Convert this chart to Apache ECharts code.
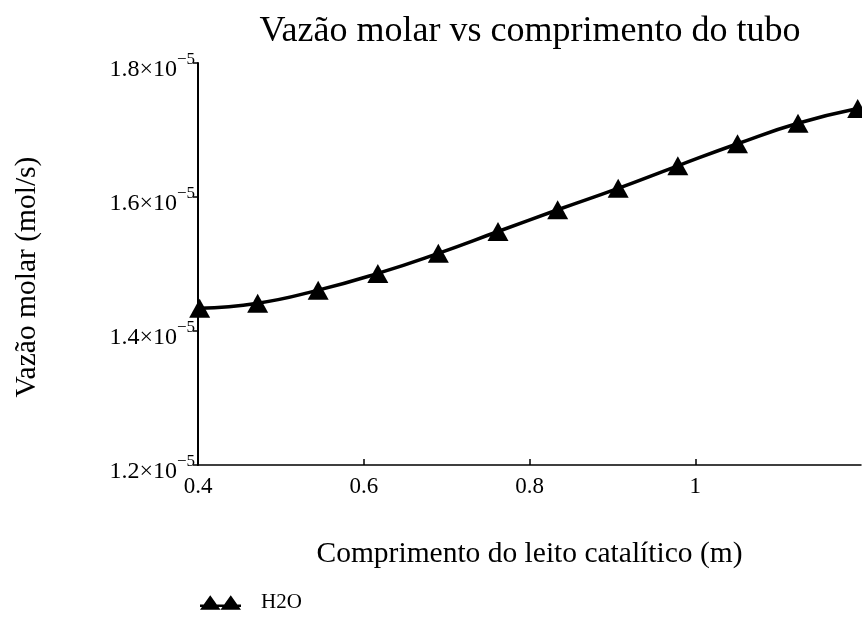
<!DOCTYPE html>
<html>
<head>
<meta charset="utf-8">
<script src="https://cdn.jsdelivr.net/npm/echarts@6/dist/echarts.min.js"></script>
<style>
html,body{margin:0;padding:0;background:#fff;}
#chart{width:862px;height:617px;}
</style>
</head>
<body>
<div id="chart"></div>
<script>
// Tube length (m) at the marked points
const lengths = [0.402, 0.472, 0.545, 0.617, 0.690, 0.762, 0.834, 0.907, 0.979, 1.051, 1.124, 1.196];
// H2O molar flow (mol/s)
const h2oFlow = [1.434e-5, 1.4415e-5, 1.461e-5, 1.486e-5, 1.516e-5, 1.5485e-5, 1.581e-5, 1.613e-5, 1.6466e-5, 1.6795e-5, 1.710e-5, 1.732e-5];
const seriesName = 'H2O';
const titleText = 'Vazão molar vs comprimento do tubo';
const xName = 'Comprimento do leito catalítico (m)';
const yName = 'Vazão molar (mol/s)';

const FONT = "'Liberation Serif', 'Times New Roman', serif";
const chart = echarts.init(document.getElementById('chart'), null, {renderer: 'canvas'});

const legendIcon = 'path://M0,14 L10,0 L20,14 Z M20,14 L30,0 L40,14 Z M0,9 L40,9 L40,11.5 L0,11.5 Z';

chart.setOption({
  animation: false,
  backgroundColor: '#fff',
  title: {
    text: titleText,
    left: 525,
    textAlign: 'center',
    top: 9,
    textStyle: {fontFamily: FONT, fontSize: 36, fontWeight: 'normal', color: '#000'}
  },
  legend: {
    left: 200,
    top: 592,
    padding: 0,
    itemWidth: 41,
    itemHeight: 17,
    itemGap: 10,
    icon: legendIcon,
    itemStyle: {color: '#000'},
    textStyle: {fontFamily: FONT, fontSize: 21, color: '#000', padding: [0, 0, 0, 15]},
    data: [{name: seriesName, icon: legendIcon}]
  },
  grid: {left: 198, right: 1, top: 63, bottom: 152, containLabel: false},
  xAxis: {
    type: 'value',
    min: 0.4,
    max: 1.2,
    interval: 0.2,
    name: xName,
    nameLocation: 'middle',
    nameGap: 74,
    nameTextStyle: {fontFamily: FONT, fontSize: 29.5, color: '#000'},
    axisLine: {show: true, onZero: false, lineStyle: {color: '#000', width: 1.5}},
    axisTick: {show: true, inside: true, length: 6, lineStyle: {color: '#000', width: 1.5}},
    axisLabel: {
      showMaxLabel: false,
      margin: 10,
      fontFamily: FONT, fontSize: 23, color: '#000',
      formatter: v => String(Math.round(v * 10) / 10)
    },
    splitLine: {show: false}
  },
  yAxis: {
    type: 'value',
    min: 1.2e-5,
    max: 1.8e-5,
    interval: 0.2e-5,
    name: yName,
    nameLocation: 'middle',
    nameGap: 156,
    nameRotate: 90,
    nameTextStyle: {fontFamily: FONT, fontSize: 29.5, color: '#000', padding: [0, 26, 0, 0]},
    axisLine: {show: true, onZero: false, lineStyle: {color: '#000', width: 2}},
    axisTick: {show: true, inside: false, length: 5, lineStyle: {color: '#000', width: 1.5}},
    axisLabel: {
      margin: 3,
      padding: [7, 0, 0, 0],
      formatter: v => '{m|' + (v * 1e5).toFixed(1) + '×10}{s|−5}',
      rich: {
        m: {fontFamily: FONT, fontSize: 24, color: '#000', lineHeight: 30, verticalAlign: 'bottom', padding: [8, 0, 0, 0]},
        s: {fontFamily: FONT, fontSize: 17, color: '#000', lineHeight: 30, verticalAlign: 'top'}
      }
    },
    splitLine: {show: false}
  },
  series: [{
    name: seriesName,
    type: 'line',
    data: lengths.map((x, i) => [x, h2oFlow[i]]),
    smooth: true,
    symbol: 'triangle',
    symbolSize: [21, 19],
    showAllSymbol: true,
    clip: false,
    itemStyle: {color: '#000'},
    lineStyle: {color: '#000', width: 3.5}
  }]
});
</script>
</body>
</html>
